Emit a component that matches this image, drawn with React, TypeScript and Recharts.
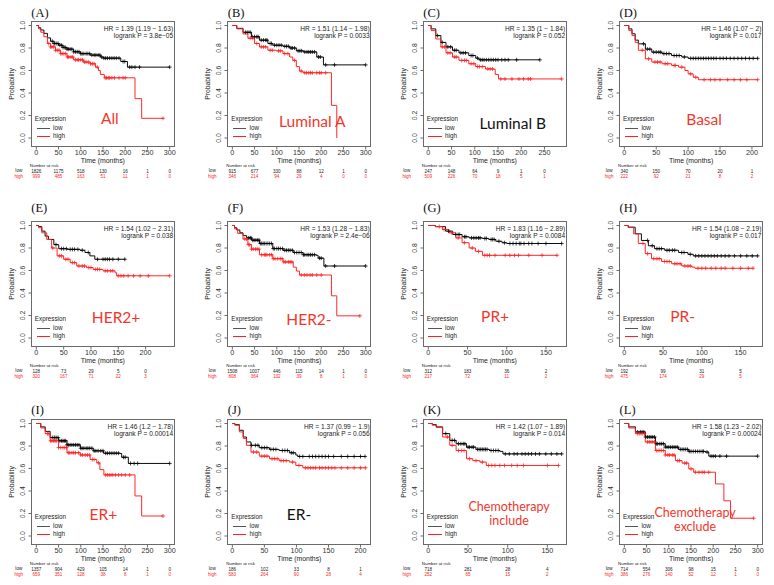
import React from 'react';
import { LineChart, Line, XAxis, YAxis } from 'recharts';

type P = [number, number];

// ---------- tick labels ----------
const T300 = [0, 50, 100, 150, 200, 250, 300];
const T250 = [0, 50, 100, 150, 200, 250];
const T200 = [0, 50, 100, 150, 200];
const T150 = [0, 50, 100, 150];
const Y_TICKS = [0, 0.2, 0.4, 0.6, 0.8, 1.0];

// ---------- panel texts ----------
const TAGS = ['(A)', '(B)', '(C)', '(D)', '(E)', '(F)', '(G)', '(H)', '(I)', '(J)', '(K)', '(L)'];
const HR_TEXT = [
  'HR = 1.39 (1.19 − 1.63)', 'HR = 1.51 (1.14 − 1.98)', 'HR = 1.35 (1 − 1.84)', 'HR = 1.46 (1.07 − 2)',
  'HR = 1.54 (1.02 − 2.31)', 'HR = 1.53 (1.28 − 1.83)', 'HR = 1.83 (1.16 − 2.89)', 'HR = 1.54 (1.08 − 2.19)',
  'HR = 1.46 (1.2 − 1.78)', 'HR = 1.37 (0.99 − 1.9)', 'HR = 1.42 (1.07 − 1.89)', 'HR = 1.58 (1.23 − 2.02)',
];
const P_TEXT = [
  'logrank P = 3.8e−05', 'logrank P = 0.0033', 'logrank P = 0.052', 'logrank P = 0.017',
  'logrank P = 0.038', 'logrank P = 2.4e−06', 'logrank P = 0.0084', 'logrank P = 0.017',
  'logrank P = 0.00014', 'logrank P = 0.056', 'logrank P = 0.014', 'logrank P = 0.00024',
];
const NAMES: string[][] = [
  ['All'], ['Luminal A'], ['Luminal B'], ['Basal'], ['HER2+'], ['HER2-'],
  ['PR+'], ['PR-'], ['ER+'], ['ER-'], ['Chemotherapy', 'include'], ['Chemotherapy', 'exclude'],
];
const NAME_RED = [true, true, false, true, true, true, true, true, true, false, true, true];

// ---------- numbers at risk ----------
const A_riskLow = [1826, 1175, 518, 130, 16, 1, 0];
const A_riskHigh = [999, 485, 163, 51, 11, 1, 0];
const B_riskLow = [915, 677, 330, 88, 12, 1, 0];
const B_riskHigh = [346, 214, 94, 29, 4, 0, 0];
const C_riskLow = [247, 148, 64, 9, 1, 0];
const C_riskHigh = [509, 226, 70, 18, 5, 1];
const D_riskLow = [340, 150, 70, 20, 1];
const D_riskHigh = [222, 92, 21, 8, 2];
const E_riskLow = [128, 73, 29, 5, 0];
const E_riskHigh = [320, 167, 71, 22, 3];
const F_riskLow = [1508, 1007, 446, 115, 14, 1, 0];
const F_riskHigh = [808, 364, 132, 39, 8, 1, 0];
const G_riskLow = [312, 183, 36, 2];
const G_riskHigh = [217, 72, 11, 2];
const H_riskLow = [192, 99, 31, 5];
const H_riskHigh = [475, 174, 29, 5];
const I_riskLow = [1357, 904, 429, 105, 14, 1, 0];
const I_riskHigh = [659, 351, 128, 38, 8, 1, 0];
const J_riskLow = [186, 102, 33, 8, 1];
const J_riskHigh = [583, 264, 90, 28, 4];
const K_riskLow = [718, 281, 28, 4];
const K_riskHigh = [252, 65, 15, 2];
const L_riskLow = [714, 554, 306, 98, 15, 1, 0];
const L_riskHigh = [386, 276, 140, 52, 12, 1, 0];

// ---------- survival curves: [time, probability] at each drop ----------
const A_low: P[] = [[0, 1], [5, 0.98], [10, 0.96], [17, 0.93], [25, 0.89], [32, 0.86], [40, 0.84], [50, 0.825], [60, 0.805], [69, 0.79], [84, 0.766], [99, 0.75], [121, 0.737], [144, 0.72], [151, 0.71], [190, 0.68], [205, 0.63], [300, 0.63]];
const A_lowC = [36, 40, 42, 46, 49, 53, 57, 60, 63, 66, 69, 72, 76, 80, 84, 88, 92, 96, 100, 103, 107, 112, 116, 120, 125, 130, 134, 139, 143, 147, 152, 156, 160, 165, 170, 175, 180, 186, 195, 199, 210, 215, 222, 232, 300];
const A_high: P[] = [[0, 1], [5, 0.97], [10, 0.94], [17, 0.9], [25, 0.84], [32, 0.81], [43, 0.78], [54, 0.75], [69, 0.72], [84, 0.695], [106, 0.675], [121, 0.66], [133, 0.63], [140, 0.6], [144, 0.565], [153, 0.535], [222, 0.35], [237, 0.175], [285, 0.175]];
const A_highC = [28, 32, 35, 39, 43, 47, 51, 55, 58, 62, 66, 70, 73, 78, 82, 88, 92, 95, 100, 104, 108, 112, 117, 122, 126, 130, 137, 155, 158, 162, 165, 170, 176, 186, 195, 200, 285];

const B_low: P[] = [[0, 1], [10, 0.975], [24, 0.94], [43, 0.9], [61, 0.87], [80, 0.84], [91, 0.825], [114, 0.815], [129, 0.8], [144, 0.775], [160, 0.765], [190, 0.72], [205, 0.65], [300, 0.65]];
const B_lowC = [30, 35, 40, 45, 50, 55, 58, 65, 70, 75, 78, 85, 88, 95, 100, 105, 110, 118, 122, 126, 132, 135, 140, 148, 152, 156, 163, 168, 172, 176, 180, 185, 194, 198, 210, 230, 300];
const B_high: P[] = [[0, 1], [10, 0.97], [24, 0.925], [35, 0.887], [50, 0.84], [61, 0.81], [80, 0.78], [99, 0.775], [114, 0.75], [129, 0.72], [136, 0.69], [144, 0.635], [151, 0.595], [159, 0.58], [223, 0.29], [235, 0]];
const B_highC = [40, 46, 55, 65, 70, 75, 85, 90, 104, 108, 118, 125, 140, 155, 163, 167, 172, 176, 180, 190, 196, 200, 210];

const C_low: P[] = [[0, 1], [6, 0.97], [16, 0.91], [27, 0.85], [38, 0.81], [52, 0.78], [66, 0.757], [87, 0.733], [102, 0.71], [109, 0.695], [240, 0.695]];
const C_lowC = [20, 30, 42, 48, 56, 60, 70, 75, 80, 92, 96, 106, 112, 116, 120, 125, 130, 135, 140, 145, 150, 158, 165, 172, 190, 240];
const C_high: P[] = [[0, 1], [6, 0.955], [16, 0.88], [27, 0.81], [38, 0.757], [52, 0.72], [66, 0.69], [87, 0.66], [102, 0.635], [123, 0.614], [141, 0.61], [144, 0.565], [151, 0.525], [287, 0.525]];
const C_highC = [30, 35, 42, 47, 56, 60, 72, 78, 82, 92, 98, 106, 110, 116, 128, 133, 138, 156, 165, 180, 195, 205, 215, 220, 287];

const D_low: P[] = [[0, 1], [7, 0.97], [12, 0.926], [17, 0.87], [22, 0.837], [33, 0.79], [43, 0.763], [59, 0.75], [74, 0.733], [90, 0.72], [100, 0.708], [209, 0.708]];
const D_lowC = [30, 36, 40, 46, 50, 54, 57, 62, 66, 70, 78, 82, 86, 94, 104, 108, 112, 116, 120, 124, 128, 132, 136, 140, 144, 150, 155, 160, 166, 172, 178, 184, 190, 196, 202, 209];
const D_high: P[] = [[0, 1], [7, 0.955], [12, 0.91], [17, 0.85], [22, 0.78], [33, 0.704], [43, 0.675], [59, 0.66], [74, 0.645], [85, 0.63], [95, 0.6], [100, 0.57], [108, 0.54], [116, 0.518], [209, 0.518]];
const D_highC = [28, 38, 48, 52, 56, 64, 68, 78, 80, 90, 104, 112, 125, 135, 142, 150, 162, 172, 182, 192, 209];

const E_low: P[] = [[0, 1], [4, 0.99], [10, 0.95], [16, 0.906], [22, 0.876], [32, 0.83], [41, 0.794], [56, 0.788], [80, 0.78], [89, 0.76], [98, 0.73], [107, 0.7], [162, 0.7]];
const E_lowC = [36, 46, 50, 55, 62, 66, 70, 76, 84, 95, 112, 122, 126, 130, 134, 140, 150, 162];
const E_high: P[] = [[0, 1], [4, 0.98], [10, 0.935], [19, 0.876], [28, 0.8], [38, 0.73], [50, 0.7], [62, 0.67], [74, 0.64], [92, 0.626], [104, 0.61], [122, 0.597], [144, 0.58], [147, 0.553], [244, 0.553]];
const E_highC = [30, 42, 46, 54, 58, 66, 70, 78, 84, 88, 96, 100, 108, 112, 116, 126, 130, 136, 140, 150, 155, 160, 168, 178, 190, 205, 244];

const F_low: P[] = [[0, 1], [5, 0.98], [10, 0.96], [17, 0.935], [24, 0.91], [32, 0.89], [43, 0.87], [61, 0.84], [91, 0.795], [114, 0.78], [137, 0.76], [159, 0.74], [189, 0.735], [193, 0.71], [206, 0.64], [300, 0.64]];
const F_lowC = [36, 40, 42, 46, 49, 53, 57, 60, 63, 66, 69, 72, 76, 80, 84, 88, 92, 95, 100, 104, 108, 113, 118, 122, 126, 130, 135, 140, 145, 150, 155, 160, 163, 168, 172, 176, 180, 185, 196, 200, 210, 230, 300];
const F_high: P[] = [[0, 1], [5, 0.97], [12, 0.93], [24, 0.88], [35, 0.83], [43, 0.79], [61, 0.74], [91, 0.705], [114, 0.676], [137, 0.63], [144, 0.595], [151, 0.56], [223, 0.375], [235, 0.197], [287, 0.197]];
const F_highC = [28, 32, 36, 39, 43, 47, 52, 56, 60, 66, 72, 75, 78, 84, 88, 92, 96, 102, 108, 112, 116, 120, 126, 130, 134, 155, 162, 168, 175, 180, 190, 200, 287];

const G_low: P[] = [[0, 1], [9, 0.99], [22, 0.95], [31, 0.92], [43, 0.9], [52, 0.89], [69, 0.885], [77, 0.876], [86, 0.86], [94, 0.847], [100, 0.84], [170, 0.84]];
const G_lowC = [26, 35, 38, 40, 46, 48, 55, 58, 61, 64, 66, 72, 74, 80, 82, 84, 90, 97, 104, 108, 112, 116, 118, 122, 128, 132, 140, 150, 170];
const G_high: P[] = [[0, 1], [9, 0.99], [18, 0.965], [26, 0.935], [35, 0.89], [43, 0.847], [52, 0.8], [60, 0.77], [69, 0.735], [164, 0.735]];
const G_highC = [14, 20, 30, 38, 46, 56, 64, 72, 75, 78, 85, 98, 104, 110, 115, 128, 145, 164];

const H_low: P[] = [[0, 1], [5, 0.985], [14, 0.926], [22, 0.867], [31, 0.82], [39, 0.794], [52, 0.78], [70, 0.76], [82, 0.744], [89, 0.73], [172, 0.73]];
const H_lowC = [30, 36, 42, 45, 48, 55, 58, 62, 65, 74, 77, 85, 92, 96, 100, 104, 108, 112, 116, 120, 125, 130, 135, 142, 150, 158, 165, 172];
const H_high: P[] = [[0, 1], [5, 0.985], [12, 0.926], [18, 0.84], [27, 0.75], [35, 0.705], [48, 0.68], [61, 0.66], [74, 0.64], [87, 0.63], [91, 0.62], [166, 0.62]];
const H_highC = [24, 30, 38, 42, 45, 52, 55, 58, 65, 68, 72, 78, 82, 85, 95, 100, 105, 112, 118, 125, 130, 140, 150, 160, 166];

const I_low: P[] = [[0, 1], [10, 0.97], [20, 0.93], [31, 0.875], [50, 0.846], [69, 0.81], [99, 0.78], [128, 0.757], [151, 0.736], [188, 0.733], [192, 0.7], [207, 0.645], [300, 0.645]];
const I_lowC = [36, 40, 42, 46, 49, 53, 57, 60, 63, 66, 69, 72, 76, 80, 84, 88, 92, 96, 100, 103, 107, 112, 116, 120, 125, 130, 134, 139, 145, 150, 156, 160, 165, 170, 175, 180, 185, 196, 200, 212, 220, 228, 300];
const I_high: P[] = [[0, 1], [10, 0.96], [20, 0.91], [31, 0.846], [50, 0.786], [69, 0.74], [99, 0.72], [121, 0.68], [136, 0.65], [143, 0.59], [152, 0.543], [222, 0.356], [237, 0.178], [285, 0.178]];
const I_highC = [25, 28, 32, 35, 39, 42, 45, 50, 55, 60, 64, 68, 72, 75, 80, 84, 88, 95, 100, 104, 110, 115, 120, 126, 130, 140, 156, 160, 164, 168, 172, 178, 185, 192, 200, 210, 285];

const J_low: P[] = [[0, 1], [4, 0.99], [11, 0.94], [17, 0.88], [22, 0.836], [29, 0.806], [42, 0.785], [58, 0.77], [73, 0.76], [89, 0.74], [99, 0.72], [102, 0.707], [207, 0.707]];
const J_lowC = [30, 36, 40, 46, 50, 54, 60, 64, 68, 78, 82, 86, 92, 95, 105, 110, 120, 125, 130, 135, 140, 145, 150, 158, 170, 180, 190, 200, 207];
const J_high: P[] = [[0, 1], [4, 0.985], [11, 0.925], [17, 0.866], [22, 0.806], [29, 0.746], [42, 0.71], [58, 0.687], [73, 0.67], [89, 0.657], [99, 0.627], [110, 0.606], [208, 0.606]];
const J_highC = [33, 38, 46, 50, 54, 62, 66, 70, 76, 80, 84, 94, 104, 114, 118, 122, 126, 130, 136, 140, 145, 150, 155, 160, 170, 180, 190, 200, 208];

const K_low: P[] = [[0, 1], [5, 0.99], [10, 0.97], [18, 0.91], [27, 0.85], [35, 0.82], [48, 0.79], [60, 0.77], [77, 0.76], [90, 0.752], [94, 0.73], [168, 0.73]];
const K_lowC = [22, 30, 33, 38, 41, 44, 46, 50, 52, 55, 57, 62, 64, 66, 68, 70, 72, 74, 79, 82, 85, 88, 97, 102, 108, 112, 118, 122, 126, 130, 135, 140, 148, 155, 162, 168];
const K_high: P[] = [[0, 1], [5, 0.985], [10, 0.964], [18, 0.88], [27, 0.806], [35, 0.76], [48, 0.687], [56, 0.67], [65, 0.657], [73, 0.627], [164, 0.627]];
const K_highC = [24, 30, 38, 42, 45, 52, 60, 68, 76, 80, 84, 90, 96, 105, 112, 120, 150, 164];

const L_low: P[] = [[0, 1], [10, 0.97], [25, 0.925], [47, 0.88], [70, 0.82], [92, 0.79], [122, 0.77], [145, 0.752], [182, 0.746], [190, 0.71], [300, 0.71]];
const L_lowC = [30, 36, 40, 44, 48, 52, 56, 60, 64, 68, 72, 75, 80, 84, 88, 92, 96, 100, 104, 108, 112, 116, 120, 126, 130, 134, 138, 142, 146, 150, 155, 160, 165, 170, 175, 178, 186, 195, 200, 205, 215, 230, 300];
const L_high: P[] = [[0, 1], [10, 0.96], [25, 0.91], [47, 0.836], [70, 0.76], [92, 0.72], [115, 0.67], [130, 0.648], [145, 0.597], [156, 0.567], [205, 0.463], [224, 0.313], [239, 0.158], [291, 0.158]];
const L_highC = [30, 35, 40, 45, 52, 56, 60, 64, 68, 72, 76, 80, 84, 88, 92, 98, 102, 108, 112, 120, 124, 136, 140, 150, 160, 168, 175, 180, 190, 291];

// ---------- layout (not data) ----------
const COLS = [-2.2, 194.3, 389.8, 586.1];
const ROWS = [0, 200, 398];
const PW = 190;
const PH = 199;
const BOX_L = 33;
const BOX_T = 21;
const BOX_W = 144;
const BOX_H = 126;
const YAXIS_W = 20;
const XAXIS_H = 34;
const Y_DOM: [number, number] = [-0.08, 1.04];
const TAG_Y = [13.3, 8.3, 12];
const RISK_LABEL_DX = [-12, -15, -16, -10];
const NAME_POS: number[][] = [
  [79, 97.6], [85, 101], [90, 103.3], [85, 99.3],
  [85.3, 97.2], [81.7, 98.5], [72.3, 96.2], [63.6, 96.2],
  [72.6, 96.2], [71.7, 96.2], [86.3, 88, 102], [76, 93.5, 108],
];
const RED = '#ff1f1f';
const NAME_RED_COLOR = '#f3362c';
const FRAME = '#6a6a6a';
const SANS = '"Liberation Sans", Arial, Helvetica, sans-serif';

const panels = [
  { ticks: T300, rl: A_riskLow, rh: A_riskHigh, low: A_low, lowC: A_lowC, high: A_high, highC: A_highC },
  { ticks: T300, rl: B_riskLow, rh: B_riskHigh, low: B_low, lowC: B_lowC, high: B_high, highC: B_highC },
  { ticks: T250, rl: C_riskLow, rh: C_riskHigh, low: C_low, lowC: C_lowC, high: C_high, highC: C_highC },
  { ticks: T200, rl: D_riskLow, rh: D_riskHigh, low: D_low, lowC: D_lowC, high: D_high, highC: D_highC },
  { ticks: T200, rl: E_riskLow, rh: E_riskHigh, low: E_low, lowC: E_lowC, high: E_high, highC: E_highC },
  { ticks: T300, rl: F_riskLow, rh: F_riskHigh, low: F_low, lowC: F_lowC, high: F_high, highC: F_highC },
  { ticks: T150, rl: G_riskLow, rh: G_riskHigh, low: G_low, lowC: G_lowC, high: G_high, highC: G_highC },
  { ticks: T150, rl: H_riskLow, rh: H_riskHigh, low: H_low, lowC: H_lowC, high: H_high, highC: H_highC },
  { ticks: T300, rl: I_riskLow, rh: I_riskHigh, low: I_low, lowC: I_lowC, high: I_high, highC: I_highC },
  { ticks: T200, rl: J_riskLow, rh: J_riskHigh, low: J_low, lowC: J_lowC, high: J_high, highC: J_highC },
  { ticks: T150, rl: K_riskLow, rh: K_riskHigh, low: K_low, lowC: K_lowC, high: K_high, highC: K_highC },
  { ticks: T300, rl: L_riskLow, rh: L_riskHigh, low: L_low, lowC: L_lowC, high: L_high, highC: L_highC },
];

function stepAt(steps: P[], t: number) {
  let s = steps[0][1];
  for (const [tt, ss] of steps) {
    if (tt <= t) s = ss;
    else break;
  }
  return s;
}

function buildSeries(steps: P[], cens: number[]) {
  const rows = steps.map(([t, s]) => ({ t, s, c: 0 }));
  cens.forEach((t) => rows.push({ t, s: stepAt(steps, t), c: 1 }));
  rows.sort((a, b) => a.t - b.t || a.c - b.c);
  return rows;
}

const makeCross = (color: string) => (props: any) => {
  const { cx, cy, payload, index } = props;
  if (!payload || !payload.c || cx == null || cy == null) return <g key={`n${index}`} />;
  return (
    <path
      key={`c${index}`}
      d={`M${cx - 2},${cy}H${cx + 2}M${cx},${cy - 2}V${cy + 2}`}
      stroke={color}
      strokeWidth={0.75}
      fill="none"
    />
  );
};

const abs = (left: number, top: number, extra: React.CSSProperties = {}): React.CSSProperties => ({
  position: 'absolute',
  left,
  top,
  whiteSpace: 'nowrap',
  lineHeight: 1,
  ...extra,
});

function Frame() {
  // four 1px bars around the plotting area
  const bar = (left: number, top: number, w: number, h: number): React.CSSProperties => ({
    position: 'absolute',
    left,
    top,
    width: w,
    height: h,
    background: FRAME,
  });
  return (
    <>
      <div style={bar(BOX_L, BOX_T, BOX_W, 1)} />
      <div style={bar(BOX_L, BOX_T + BOX_H - 1, BOX_W, 1)} />
      <div style={bar(BOX_L, BOX_T, 1, BOX_H)} />
      <div style={bar(BOX_L + BOX_W - 1, BOX_T, 1, BOX_H)} />
    </>
  );
}

function Panel({ i }: { i: number }) {
  const d = panels[i];
  const col = i % 4;
  const row = Math.floor(i / 4);
  const tMax = Math.max(d.low[d.low.length - 1][0], d.high[d.high.length - 1][0]);
  const dom: [number, number] = [-0.04 * tMax, 1.04 * tMax];
  const lowData = buildSeries(d.low, d.lowC);
  const highData = buildSeries(d.high, d.highC);
  const np = NAME_POS[i];
  const names = NAMES[i];
  const nameColor = NAME_RED[i] ? NAME_RED_COLOR : '#111';
  const nameSize = names.length > 1 ? 12.5 : 15.5;
  const bottom = BOX_T + BOX_H;

  const xTick = (p: any) => {
    const v = p.payload.value;
    const k = d.ticks.indexOf(v);
    return (
      <g>
        <line x1={p.x} x2={p.x} y1={bottom} y2={bottom + 2.5} stroke="#444" strokeWidth={0.8} />
        <text x={p.x} y={p.y + 3.2} textAnchor="middle" dominantBaseline="central" fontSize={7.2} fill="#333" fontFamily={SANS}>
          {v}
        </text>
        <text x={p.x} y={p.y + 21.8} textAnchor="middle" dominantBaseline="central" fontSize={4.6} fill="#222" fontFamily={SANS}>
          {d.rl[k]}
        </text>
        <text x={p.x} y={p.y + 27.2} textAnchor="middle" dominantBaseline="central" fontSize={4.6} fill={RED} fontFamily={SANS}>
          {d.rh[k]}
        </text>
      </g>
    );
  };

  const yTick = (p: any) => {
    const v = p.payload.value;
    const cx = p.x - 6;
    return (
      <g>
        <line x1={BOX_L - 2.5} x2={BOX_L} y1={p.y} y2={p.y} stroke="#444" strokeWidth={0.8} />
        <text
          x={cx}
          y={p.y}
          transform={`rotate(-90, ${cx}, ${p.y})`}
          textAnchor="middle"
          dominantBaseline="central"
          fontSize={6.8}
          fill="#333"
          fontFamily={SANS}
        >
          {Number(v).toFixed(1)}
        </text>
      </g>
    );
  };

  return (
    <div style={{ position: 'absolute', left: COLS[col], top: ROWS[row], width: PW, height: PH }}>
      <LineChart
        width={PW}
        height={PH}
        margin={{
          top: BOX_T,
          left: BOX_L - YAXIS_W,
          right: PW - BOX_L - BOX_W,
          bottom: PH - BOX_T - BOX_H - XAXIS_H,
        }}
        style={{ position: 'absolute', left: 0, top: 0 }}
      >
        <XAxis
          type="number"
          dataKey="t"
          domain={dom}
          ticks={d.ticks}
          interval={0}
          allowDataOverflow
          height={XAXIS_H}
          tickSize={2.5}
          tickMargin={0}
          axisLine={false}
          tickLine={false}
          tick={xTick}
        />
        <YAxis
          type="number"
          domain={Y_DOM}
          ticks={Y_TICKS}
          interval={0}
          allowDataOverflow
          width={YAXIS_W}
          tickSize={2.5}
          tickMargin={0}
          axisLine={false}
          tickLine={false}
          tick={yTick}
        />
        <Line
          data={lowData}
          dataKey="s"
          type="stepAfter"
          stroke="#000"
          strokeWidth={0.95}
          dot={makeCross('#000')}
          activeDot={false}
          isAnimationActive={false}
        />
        <Line
          data={highData}
          dataKey="s"
          type="stepAfter"
          stroke={RED}
          strokeWidth={0.95}
          dot={makeCross(RED)}
          activeDot={false}
          isAnimationActive={false}
        />
      </LineChart>

      <Frame />

      {/* panel tag */}
      <div style={abs(BOX_L + 0.5, TAG_Y[row], { transform: 'translateY(-50%)', fontFamily: '"Liberation Serif", "Times New Roman", serif', fontSize: 12.5, color: '#111' })}>
        {TAGS[i]}
      </div>

      {/* HR / logrank */}
      <div style={abs(BOX_L + BOX_W - 1.7, BOX_T + 7.6, { transform: 'translate(-100%,-50%)', fontFamily: SANS, fontSize: 6.6, color: '#222' })}>
        {HR_TEXT[i]}
      </div>
      <div style={abs(BOX_L + BOX_W - 1.7, BOX_T + 15.3, { transform: 'translate(-100%,-50%)', fontFamily: SANS, fontSize: 6.6, color: '#222' })}>
        {P_TEXT[i]}
      </div>

      {/* y title */}
      <div style={abs(BOX_L - 19, BOX_T + BOX_H / 2, { transform: 'translate(-50%,-50%) rotate(-90deg)', fontFamily: SANS, fontSize: 6.8, color: '#222' })}>
        Probability
      </div>

      {/* x title */}
      <div style={abs(BOX_L + BOX_W / 2, bottom + 13.6, { transform: 'translate(-50%,-50%)', fontFamily: SANS, fontSize: 6.9, color: '#222' })}>
        Time (months)
      </div>

      {/* at risk */}
      <div style={abs(BOX_L - 1, bottom + 19, { transform: 'translateY(-50%)', fontFamily: SANS, fontSize: 4.4, color: '#222' })}>
        Number at risk
      </div>
      <div style={abs(BOX_L + RISK_LABEL_DX[col], bottom + 24.4, { transform: 'translate(-50%,-50%)', fontFamily: SANS, fontSize: 4.6, color: '#222' })}>
        low
      </div>
      <div style={abs(BOX_L + RISK_LABEL_DX[col], bottom + 29.8, { transform: 'translate(-50%,-50%)', fontFamily: SANS, fontSize: 4.6, color: RED })}>
        high
      </div>

      {/* legend */}
      <div style={abs(BOX_L + 4, BOX_T + 98.3, { transform: 'translateY(-50%)', fontFamily: SANS, fontSize: 6.3, color: '#222' })}>
        Expression
      </div>
      <div style={abs(BOX_L + 5.7, BOX_T + 107.3, { width: 13.3, height: 0, borderTop: '1px solid #555' })} />
      <div style={abs(BOX_L + 22.3, BOX_T + 107.3, { transform: 'translateY(-50%)', fontFamily: SANS, fontSize: 6.3, color: '#222' })}>
        low
      </div>
      <div style={abs(BOX_L + 5.7, BOX_T + 115, { width: 13.3, height: 0, borderTop: `1px solid ${RED}` })} />
      <div style={abs(BOX_L + 22.3, BOX_T + 115, { transform: 'translateY(-50%)', fontFamily: SANS, fontSize: 6.3, color: '#222' })}>
        high
      </div>

      {/* subtype label */}
      {names.map((nm, j) => (
        <div
          key={nm}
          style={abs(BOX_L + np[0], BOX_T + np[1 + j], {
            transform: 'translate(-50%,-50%)',
            fontFamily: 'Lato, "Open Sans", sans-serif',
            fontSize: nameSize,
            color: nameColor,
          })}
        >
          {nm}
        </div>
      ))}
    </div>
  );
}

export default function App() {
  return (
    <div
      style={{
        position: 'fixed',
        left: 0,
        top: 0,
        width: 774,
        height: 585,
        overflow: 'hidden',
        background: '#fff',
      }}
    >
      {panels.map((_, i) => (
        <Panel key={i} i={i} />
      ))}
    </div>
  );
}
